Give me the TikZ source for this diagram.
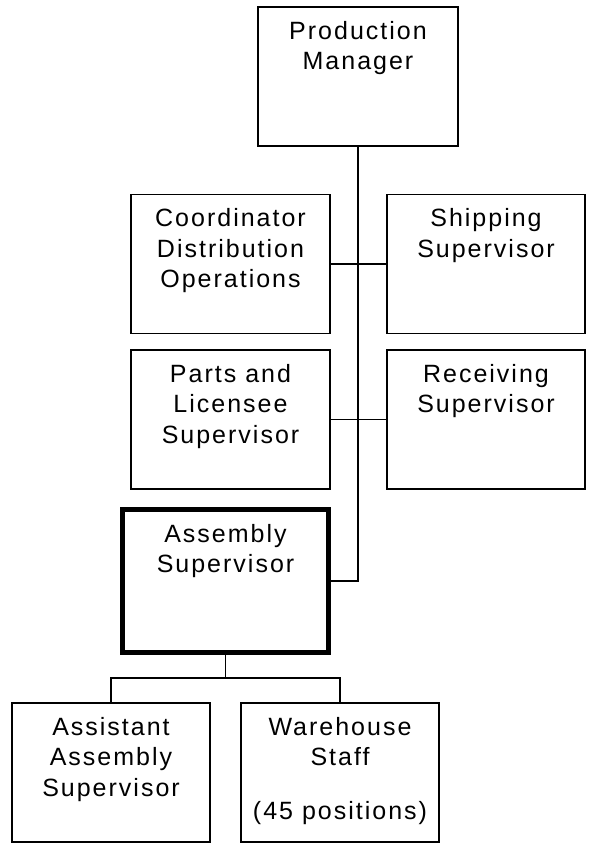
\documentclass[tikz,border=0pt]{standalone}
\usepackage{fontspec}
\setmainfont{Liberation Sans}[LetterSpace=8]
\begin{document}
\begin{tikzpicture}[x=1pt,y=-1pt,
  box/.style={draw=black, line width=1.7pt, rectangle, inner sep=0pt, minimum width=199pt, minimum height=139pt},
  thickbox/.style={draw=black, line width=5pt, rectangle, inner sep=0pt, minimum width=206pt, minimum height=143pt},
  txt/.style={inner sep=0pt, align=center, anchor=north, font=\fontsize{25}{30.5}\selectfont},
  conn/.style={draw=black, line width=1.7pt}]
\useasboundingbox (0,0) rectangle (589,845);
% boxes
\node[box, minimum width=200pt] (pm) at (358,76.5) {};
\node[box] (coord) at (230.5,264) {};
\node[box, minimum width=198pt] (ship) at (486,264) {};
\node[box] (parts) at (230.5,419.5) {};
\node[box, minimum width=198pt] (recv) at (486,419.5) {};
\node[thickbox] (asm) at (225.5,581) {};
\node[box, minimum width=198pt] (asst) at (111,772.5) {};
\node[box, minimum width=198pt] (wh) at (340,772.5) {};
% texts
\node[txt] (pmt) at ([yshift=-15pt]pm.north) {Production\\Manager};
\node[txt] (coordt) at ([yshift=-15pt]coord.north) {Coordinator\\Distribution\\Operations};
\node[txt] (shipt) at ([yshift=-15pt]ship.north) {Shipping\\Supervisor};
\node[txt] (partst) at ([yshift=-15pt]parts.north) {Parts and\\Licensee\\Supervisor};
\node[txt] (recvt) at ([yshift=-15pt]recv.north) {Receiving\\Supervisor};
\node[txt] (asmt) at ([yshift=-17pt]asm.north) {Assembly\\Supervisor};
\node[txt] (asstt) at ([yshift=-15pt]asst.north) {Assistant\\Assembly\\Supervisor};
\node[txt] (wht) at ([yshift=-15pt]wh.north) {Warehouse\\Staff\\[23pt](45 positions)};
% connectors
\coordinate (spine) at (358,581);
\draw[conn] (pm.south) -- (spine) -- (asm.east);
\draw[conn] (coord.east) -- (ship.west);
\draw[conn] (parts.east) -- (recv.west);
\coordinate (bus) at (225.5,678);
\draw[conn] (asm.south) -- (bus);
\draw[conn] (asst.north) |- (bus) -| (wh.north);
\end{tikzpicture}
\end{document}
